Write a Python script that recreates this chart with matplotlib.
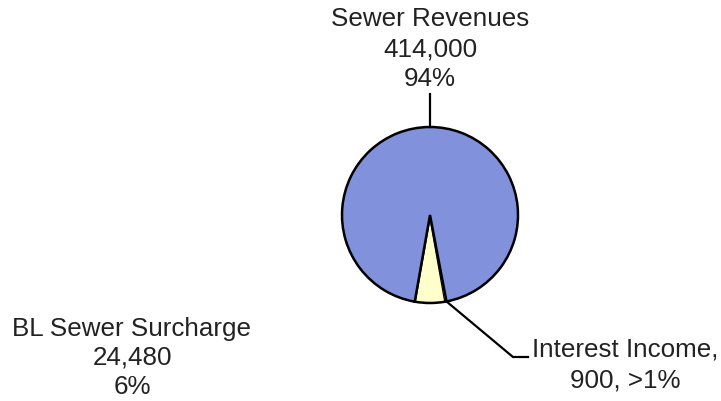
import matplotlib.pyplot as plt
import numpy as np

plt.rcParams['font.family'] = ['Liberation Sans', 'DejaVu Sans']

# Datos del gráfico
categorias = ['BL Sewer Surcharge', 'Interest Income', 'Sewer Revenues']
valores = [24480, 900, 414000]
porcentajes = ['6%', '>1%', '94%']
colores = ['#FFFFCC', '#FFFFCC', '#8191DC']

fig = plt.figure(figsize=(7.21, 4.02), dpi=100)
ax = fig.add_axes([0, 0, 1, 1])

cx, cy, r = 430, 186, 88
wedges, _ = ax.pie(valores, colors=colores, startangle=260, counterclock=True,
                   center=(cx, cy), radius=r,
                   wedgeprops=dict(edgecolor='black', linewidth=1.8))
# Sin borde en la cuña diminuta
wedges[1].set_linewidth(0)

ax.set_xlim(0, 721)
ax.set_ylim(0, 402)
ax.set_aspect('equal')
ax.axis('off')

fs = 18.7
color_texto = '#222222'
# Sewer Revenues: línea vertical desde la parte superior del círculo
ax.plot([cx, cx], [cy + r, 307], color='black', lw=1.6)
ax.text(cx, 353, f'{categorias[2]}\n{valores[2]:,}\n{porcentajes[2]}',
        ha='center', va='center', fontsize=fs, color=color_texto, linespacing=1.3)

# BL Sewer Surcharge, sin línea guía
ax.text(132, 44, f'{categorias[0]}\n{valores[0]:,}\n{porcentajes[0]}',
        ha='center', va='center', fontsize=fs, color=color_texto, linespacing=1.25)

# Interest Income: línea guía desde el borde de la cuña
ang = np.deg2rad(wedges[1].theta2)
px, py = cx + r * np.cos(ang), cy + r * np.sin(ang)
ax.plot([px, 513, 528], [py, 44, 44], color='black', lw=1.6)
ax.text(625, 37, f'{categorias[1]},\n{valores[1]:,}, {porcentajes[1]}',
        ha='center', va='center', fontsize=fs, color=color_texto, linespacing=1.42)

plt.savefig('out.png', dpi=100)
